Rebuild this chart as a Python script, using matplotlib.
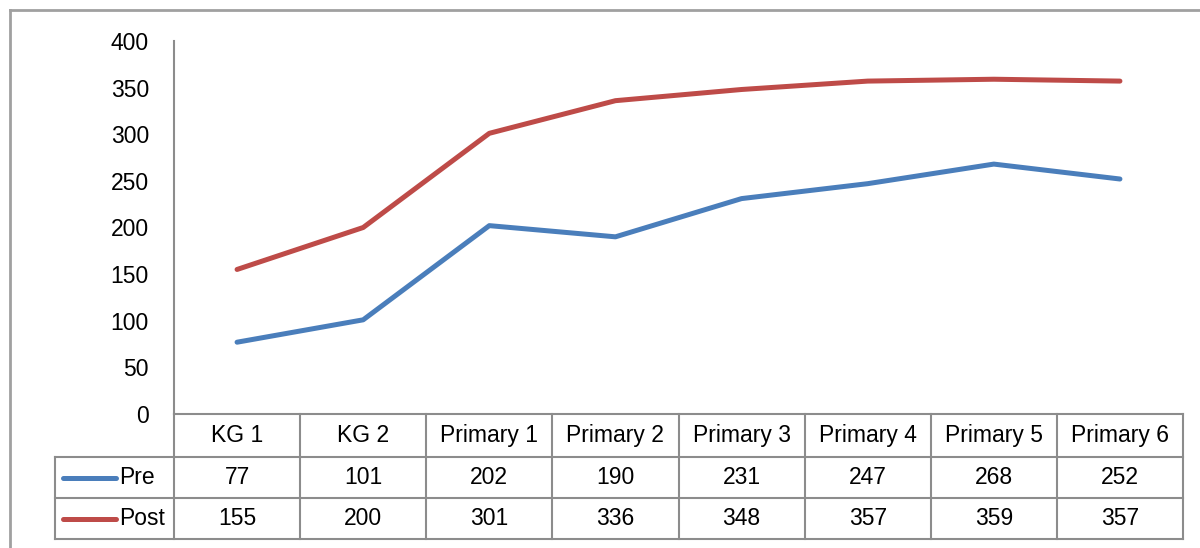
import matplotlib
matplotlib.use("Agg")
import matplotlib.pyplot as plt
from matplotlib.lines import Line2D

categories = ["KG 1", "KG 2", "Primary 1", "Primary 2", "Primary 3",
              "Primary 4", "Primary 5", "Primary 6"]
pre = [77, 101, 202, 190, 231, 247, 268, 252]
post = [155, 200, 301, 336, 348, 357, 359, 357]
series_names = ["Pre", "Post"]
yticks = [0, 50, 100, 150, 200, 250, 300, 350, 400]

BLUE = "#4A7EBB"
RED = "#BE4B48"
GRID = "#8C8C8C"
W, H = 1200, 548
FS = 16.5

plt.rcParams['font.family'] = ['Liberation Sans', 'DejaVu Sans']
fig = plt.figure(figsize=(W / 100, H / 100), dpi=100)

def fx(px):
    return px / W

def fy(py):
    return 1 - py / H

ax_left, ax_right, ax_top, ax_bot = 174, 1183, 41, 414
ax = fig.add_axes([fx(ax_left), fy(ax_bot), fx(ax_right - ax_left), fy(ax_top) - fy(ax_bot)])
x = list(range(len(categories)))
ax.plot(x, pre, color=BLUE, lw=3.6, solid_capstyle='round', solid_joinstyle='round')
ax.plot(x, post, color=RED, lw=3.6, solid_capstyle='round', solid_joinstyle='round')
ax.set_xlim(-0.5, len(categories) - 0.5)
ax.set_ylim(0, 400)
ax.set_yticks(yticks)
ax.set_yticklabels([str(v) for v in yticks], fontsize=FS)
ax.tick_params(axis='y', length=0, pad=18)
ax.set_xticks([])
for s in ["top", "right", "bottom"]:
    ax.spines[s].set_visible(False)
ax.spines["left"].set_color(GRID)
ax.spines["left"].set_linewidth(1.5)

# outer border (top and left visible)
fig.add_artist(Line2D([fx(10), fx(1200)], [fy(10), fy(10)], transform=fig.transFigure, color="#A0A0A0", lw=2))
fig.add_artist(Line2D([fx(10), fx(10)], [fy(10), fy(548)], transform=fig.transFigure, color="#A0A0A0", lw=2))

# data table
rows_y = [414, 457, 498, 539]
leg_left = 55
col_w = (ax_right - ax_left) / len(categories)
col_x = [ax_left + i * col_w for i in range(len(categories) + 1)]

def hline(x0, x1, y):
    fig.add_artist(Line2D([fx(x0), fx(x1)], [fy(y), fy(y)], transform=fig.transFigure, color=GRID, lw=1.5))

def vline(xp, y0, y1):
    fig.add_artist(Line2D([fx(xp), fx(xp)], [fy(y0), fy(y1)], transform=fig.transFigure, color=GRID, lw=1.5))

hline(ax_left, ax_right, rows_y[0])
hline(leg_left, ax_right, rows_y[1])
hline(leg_left, ax_right, rows_y[2])
hline(leg_left, ax_right, rows_y[3])
for xp in col_x:
    vline(xp, rows_y[0], rows_y[3])
vline(leg_left, rows_y[1], rows_y[3])

for i, c in enumerate(categories):
    cx = (col_x[i] + col_x[i + 1]) / 2
    fig.text(fx(cx), fy((rows_y[0] + rows_y[1]) / 2), c, ha='center', va='center', fontsize=FS)
    fig.text(fx(cx), fy((rows_y[1] + rows_y[2]) / 2), str(pre[i]), ha='center', va='center', fontsize=FS)
    fig.text(fx(cx), fy((rows_y[2] + rows_y[3]) / 2), str(post[i]), ha='center', va='center', fontsize=FS)

for r, (name, col) in enumerate(zip(series_names, [BLUE, RED])):
    yc = (rows_y[r + 1] + rows_y[r + 2]) / 2
    fig.add_artist(Line2D([fx(63), fx(116)], [fy(yc), fy(yc)], transform=fig.transFigure,
                          color=col, lw=3.6, solid_capstyle='round'))
    fig.text(fx(119), fy(yc), name, ha='left', va='center', fontsize=FS)

fig.savefig("out.png", dpi=100, facecolor="white")
